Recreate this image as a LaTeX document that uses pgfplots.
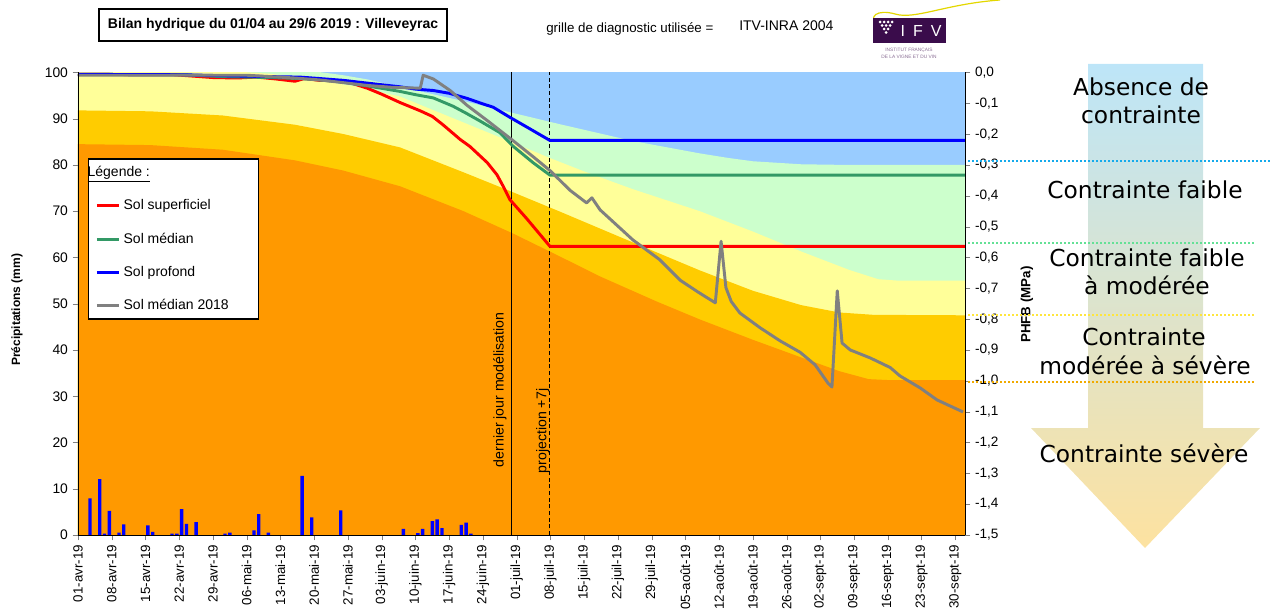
\documentclass[border=0pt]{standalone}
\usepackage{pgfplots}
\pgfplotsset{compat=1.18}
\usepackage{fontspec}
\setmainfont{Liberation Sans}
\newfontfamily\dejavu{DejaVu Sans}
\definecolor{zblue}{RGB}{153,204,255}
\definecolor{zgreen}{RGB}{204,255,204}
\definecolor{zyellow}{RGB}{255,255,153}
\definecolor{zgold}{RGB}{255,204,0}
\definecolor{zorange}{RGB}{255,153,0}
\definecolor{lred}{RGB}{255,0,0}
\definecolor{lgreen}{RGB}{51,153,102}
\definecolor{lblue}{RGB}{0,0,255}
\definecolor{lgray}{RGB}{128,128,128}
\definecolor{ifvpurple}{RGB}{58,12,75}
\definecolor{arrtop}{RGB}{189,229,248}
\definecolor{arrmid}{RGB}{232,228,218}
\definecolor{arrbot}{RGB}{253,226,160}
\definecolor{dblue}{RGB}{20,170,235}
\definecolor{dgreen}{RGB}{100,225,150}
\definecolor{dyellow}{RGB}{255,230,60}
\definecolor{dorange}{RGB}{240,170,0}
\newcommand{\lgd}[1]{\makebox[94pt][l]{#1}}
\begin{document}
\begin{tikzpicture}
\begin{axis}[
  at={(58.5pt,-401.25pt)}, anchor=south west,
  scale only axis, width=665.25pt, height=346.9pt,
  xmin=0, xmax=184, ymin=0, ymax=100,
  axis x line*=bottom, axis y line*=left,
  axis on top,
  axis background/.style={fill=zblue},
  tick align=outside, major tick length=4pt,
  xtick={0,7,...,182},
  xticklabels={01-avr-19,08-avr-19,15-avr-19,22-avr-19,29-avr-19,06-mai-19,13-mai-19,20-mai-19,27-mai-19,03-juin-19,10-juin-19,17-juin-19,24-juin-19,01-juil-19,08-juil-19,15-juil-19,22-juil-19,29-juil-19,05-août-19,12-août-19,19-août-19,26-août-19,02-sept-19,09-sept-19,16-sept-19,23-sept-19,30-sept-19},
  xticklabel style={rotate=90, anchor=east, font=\fontsize{10}{12}\selectfont},
  ytick={0,10,...,100},
  yticklabel style={font=\fontsize{10.4}{12}\selectfont},
  /pgf/number format/assume math mode=true,
  ylabel={Précipitations (mm)},
  ylabel style={at={(axis description cs:-0.0688,0.487)}, anchor=center, font=\bfseries\fontsize{9}{11}\selectfont},
  legend style={at={(0.0113,0.814)}, anchor=north west, draw=black, line width=1pt, fill=white,
    font=\fontsize{10.5}{12.6}\selectfont, row sep=11.75pt, inner xsep=5pt, inner ysep=3.5pt,
    cells={anchor=west}},
  legend image code/.code={\draw[#1] (0pt,0pt) -- (17pt,0pt);},
]
\addlegendimage{empty legend}
\addlegendentry{\lgd{\hspace*{-27pt}\underline{Légende :}}}
% zones
\addplot[fill=zgreen, draw=none, forget plot] coordinates {(0,102) (30,101.3) (45,100.6) (50,100.1) (55,99.4) (60,98.5) (66.8,96.9) (80,93.8) (90,91.3) (100,88.8) (115,85.2) (129,82.5) (135,81.5) (140,80.8) (150,80.15) (160,80) (184,80)} \closedcycle;
\addplot[fill=zyellow, draw=none, forget plot] coordinates {(0,101) (30,100.4) (40,99.7) (50,98.3) (58,96.9) (66.8,94.8) (75,91.3) (83,87.9) (90,84.9) (97.9,81.5) (105,78.6) (115,74.8) (129,70) (140,65.6) (150,61.3) (160,57.3) (166,55.3) (170,55) (184,55)} \closedcycle;
\addplot[fill=zgold, draw=none, forget plot] coordinates {(0,91.8) (15,91.6) (30,90.7) (45,88.7) (55,86.7) (66.8,83.8) (80,78.4) (90,74.2) (100,69.9) (115,63.3) (129,57.2) (140,52.8) (150,49.7) (158,48.1) (165,47.6) (184,47.5)} \closedcycle;
\addplot[fill=zorange, draw=none, forget plot] coordinates {(0,84.5) (15,84.3) (30,83.3) (45,81) (55,78.8) (66.8,75.4) (80,70) (90.2,65.2) (100,60.2) (108.3,55.9) (120,50.5) (129,46.6) (140,42.2) (150,38.4) (158,35.4) (164,33.7) (168,33.5) (184,33.5)} \closedcycle;
% precipitation bars
\addplot[ybar, bar width=0.7, fill=lblue, draw=none, forget plot] coordinates {(2.5,7.9) (4.5,12.1) (5.5,0.3) (6.5,5.2) (8.5,0.5) (9.5,2.3) (14.5,2.1) (15.5,0.7) (19.5,0.3) (20.5,0.3) (21.5,5.6) (22.5,2.4) (24.5,2.8) (30.5,0.3) (31.5,0.5) (36.5,1.0) (37.5,4.5) (39.5,0.5) (46.5,12.8) (48.5,3.8) (54.5,5.3) (67.5,1.3) (70.5,0.4) (71.5,1.3) (73.5,3.0) (74.5,3.4) (75.5,1.5) (79.5,2.2) (80.5,2.7) (81.5,0.3)};
% reference lines
\addplot[black, line width=0.8pt, forget plot] coordinates {(90,0) (90,100)};
\addplot[black, line width=0.8pt, dash pattern=on 3pt off 2pt, forget plot] coordinates {(97.9,0) (97.9,100)};
\node[rotate=90, anchor=west, inner sep=0pt, font=\fontsize{10.6}{12}\selectfont] at (axis cs:87.5,14.6) {dernier jour modélisation};
\node[rotate=90, anchor=west, inner sep=0pt, font=\fontsize{10.6}{12}\selectfont] at (axis cs:96.4,13.3) {projection +7j};
% series
\addplot[lred, line width=2.2pt, line join=round] coordinates {(0,99.6) (20,99.5) (24,99.2) (28,98.9) (33,98.8) (37,99.0) (41,98.6) (45,98.1) (47,98.7) (50,98.3) (54,98.2) (57,97.6) (60,96.6) (63,95.3) (66.8,93.5) (71,91.7) (73.5,90.5) (75.7,88.7) (79.3,85.5) (81.3,84.0) (84.9,80.5) (86.9,77.9) (88.3,75.2) (89.6,72.5) (93,68.5) (97.9,62.4) (184,62.4)};
\addlegendentry{\lgd{Sol superficiel}}
\addplot[lgreen, line width=2.2pt, line join=round] coordinates {(0,99.6) (22,99.5) (30,99.1) (40,98.9) (46,98.7) (50,98.4) (55,97.9) (60,97.1) (66.8,95.9) (70,95.2) (73.7,94.5) (77.8,92.7) (80.5,91.2) (83.4,89.5) (87.5,87.0) (90.2,84.1) (94.4,80.5) (97.9,77.8) (184,77.8)};
\addlegendentry{\lgd{Sol médian}}
\addplot[lblue, line width=2.2pt, line join=round] coordinates {(0,99.6) (22,99.5) (30,99.3) (40,99.1) (46,99.0) (50,98.7) (55,98.3) (60,97.7) (66.8,96.9) (70,96.4) (73.7,96.1) (77,95.5) (80.7,94.4) (84,93.2) (86.1,92.5) (89.6,90.3) (93.1,88.2) (97.9,85.3) (184,85.3)};
\addlegendentry{\lgd{Sol profond}}
\addplot[lgray, line width=2.2pt, line join=round] coordinates {(0,99.4) (35,99.4) (40,99.1) (45,98.8) (50,98.4) (55,97.8) (60,97.2) (65,96.8) (71,96.6) (71.6,99.4) (73.7,98.6) (77.2,96.1) (80.7,92.9) (84.9,89.6) (90.2,85.3) (94.4,81.8) (97.9,78.8) (102.1,74.5) (105.5,71.8) (106.6,72.9) (108.3,70.3) (115.1,63.8) (120.7,59.5) (124.9,55.1) (128.5,52.6) (132.2,50.2) (133.4,63.5) (134.4,53.5) (135.5,50.5) (137.3,48.0) (141.5,44.8) (145.6,42.0) (149.8,39.5) (152.9,36.8) (155.6,32.8) (156.4,32.0) (157.5,52.8) (158.5,41.5) (160.2,40.0) (164.3,38.3) (168.5,36.2) (170.5,34.4) (174.7,31.8) (178.2,29.2) (183.6,26.6)};
\addlegendentry{\lgd{Sol médian 2018}}
\end{axis}
\begin{axis}[
  at={(58.5pt,-401.25pt)}, anchor=south west,
  scale only axis, width=665.25pt, height=346.9pt,
  xmin=0, xmax=184, ymin=-1.5, ymax=0,
  axis y line*=right, axis x line=none,
  tick align=outside, major tick length=4pt,
  ytick={-1.5,-1.4,-1.3,-1.2,-1.1,-1,-0.9,-0.8,-0.7,-0.6,-0.5,-0.4,-0.3,-0.2,-0.1,0},
  yticklabel style={font=\fontsize{10.2}{12}\selectfont, /pgf/number format/.cd, fixed, fixed zerofill, precision=1, use comma, assume math mode=true},
  ylabel={PHFB (MPa)},
  ylabel style={at={(axis description cs:1.0699,0.498)}, anchor=center, font=\bfseries\fontsize{10}{12}\selectfont},
]
\addplot[draw=none, forget plot] coordinates {(0,-1)};
\end{axis}
\begin{scope}[x=0.75pt,y=0.75pt]
% title
\draw[line width=1.5pt] (99,-9.3) rectangle (446.7,-40.7);
\node[font=\bfseries\fontsize{10.5}{12}\selectfont] at (273,-25) {Bilan hydrique du 01/04 au 29/6 2019 : Villeveyrac};
\node[anchor=base west, inner sep=0pt, font=\fontsize{10}{12}\selectfont] at (546,-33) {grille de diagnostic utilisée =};
\node[anchor=base west, inner sep=0pt, font=\fontsize{10.5}{12}\selectfont] at (739,-31) {ITV-INRA 2004};
% IFV logo
\draw[yellow!75!olive, line width=0.9pt] (879,-27) .. controls (866,-16) and (878,-9) .. (895,-14) .. controls (915,-20) and (945,-4) .. (1000,0);
\fill[ifvpurple] (872.7,-18.3) rectangle (946,-43.3);
\foreach \gx/\gy in {880/-22,884/-22,888/-22,892/-22,882/-25.5,886/-25.5,890/-25.5,884/-29,888/-29,886/-32.5}{\fill[white] (\gx,\gy) circle (1.5);}
\node[white, font=\fontsize{12}{12}\selectfont] at (921,-31) {I\hspace{6pt}F\hspace{6pt}V};
\node[ifvpurple!60, font=\fontsize{3.6}{4}\selectfont, inner sep=0pt] at (909,-50) {INSTITUT FRANÇAIS};
\node[ifvpurple!60, font=\fontsize{3.6}{4}\selectfont, inner sep=0pt] at (909,-57) {DE LA VIGNE ET DU VIN};
% arrow
\shade[top color=arrtop, middle color=arrmid, bottom color=arrbot] (1088,-64) -- (1203,-64) -- (1203,-428) -- (1260,-428) -- (1145,-548) -- (1031,-428) -- (1088,-428) -- cycle;
% dotted lines
\draw[dblue, line width=1.5pt, dash pattern=on 1.5pt off 1.5pt] (968,-161) -- (1270,-161);
\draw[dgreen, line width=1.5pt, dash pattern=on 1.5pt off 1.5pt] (968,-243) -- (1254,-243);
\draw[dyellow, line width=1.5pt, dash pattern=on 1.5pt off 1.5pt] (968,-315) -- (1254,-315);
\draw[dorange, line width=1.5pt, dash pattern=on 1.5pt off 1.5pt] (968,-381.5) -- (1256,-381.5);
% texts
\begin{scope}[every node/.style={anchor=base, inner sep=0pt, font=\dejavu\fontsize{17.5}{21}\selectfont}]
\node at (1141,-96) {Absence de};
\node at (1141,-124) {contrainte};
\node at (1145,-199) {Contrainte faible};
\node at (1147,-266.7) {Contrainte faible};
\node at (1147,-295) {à modérée};
\node at (1144,-345.7) {Contrainte};
\node at (1145,-374) {modérée à sévère};
\node at (1144,-462.3) {Contrainte sévère};
\end{scope}
\end{scope}
\pgfresetboundingbox
\useasboundingbox (0,0) rectangle (952.5pt,-456.75pt);
\end{tikzpicture}
\end{document}
